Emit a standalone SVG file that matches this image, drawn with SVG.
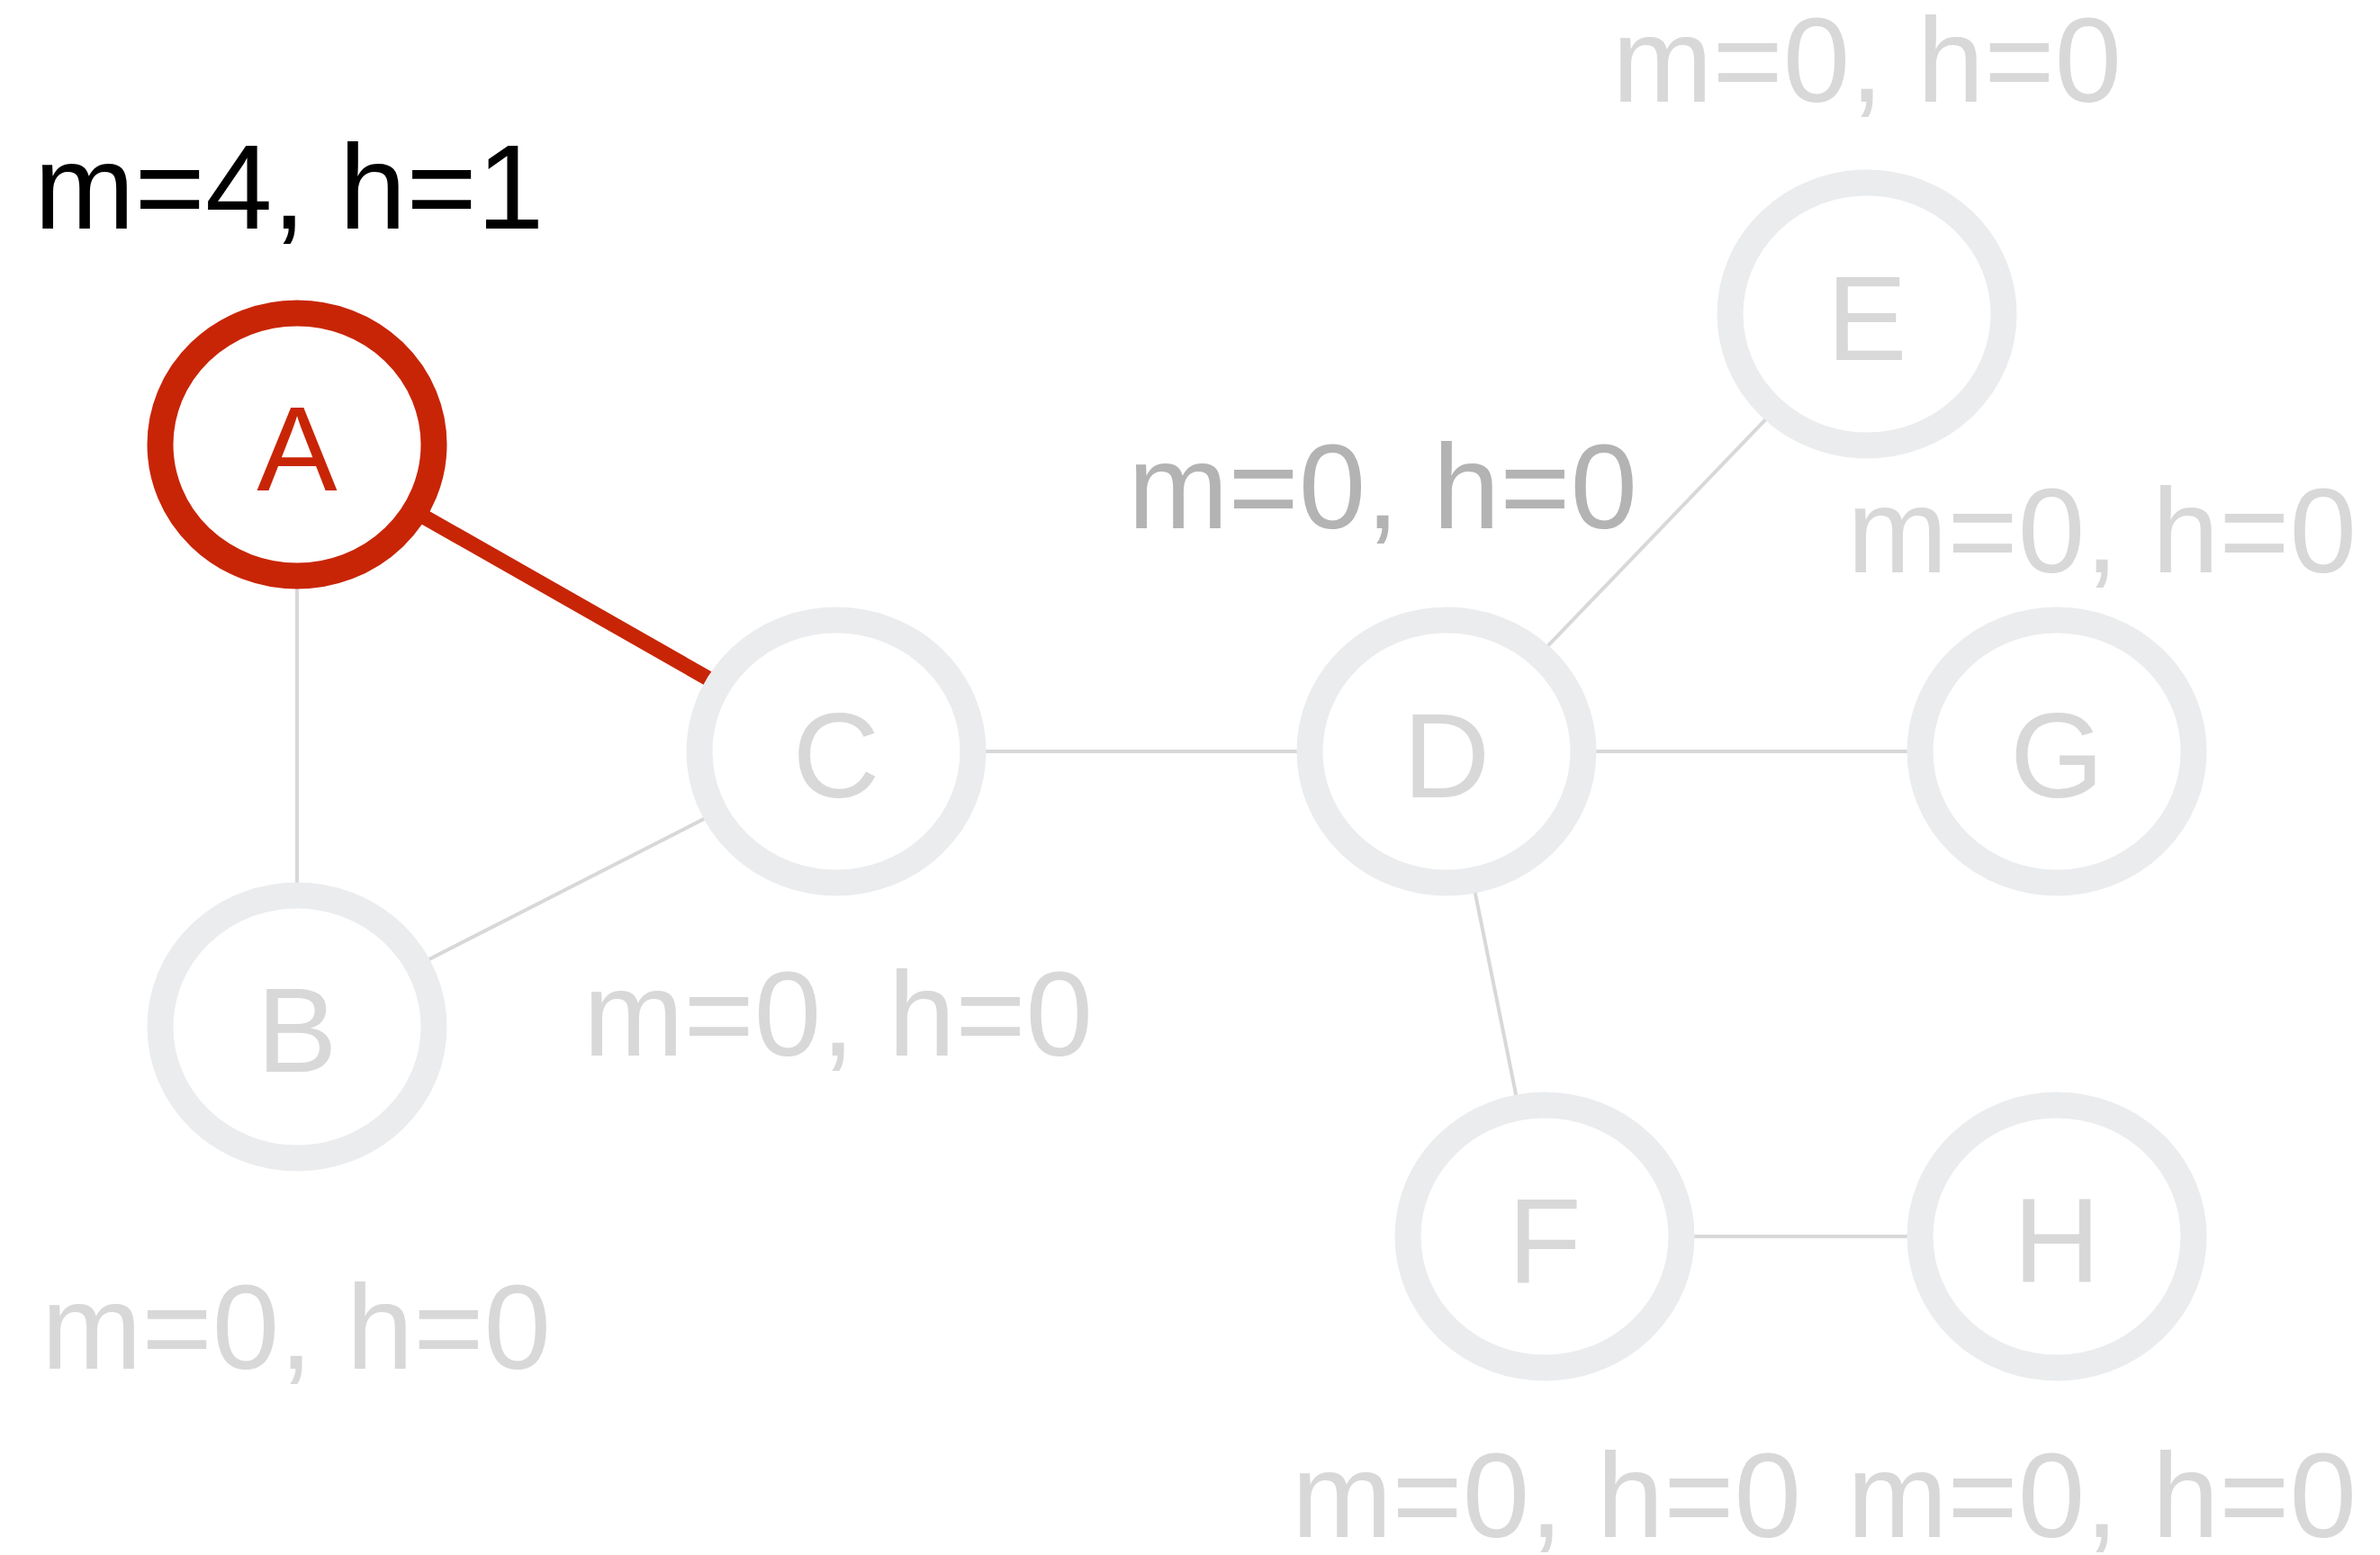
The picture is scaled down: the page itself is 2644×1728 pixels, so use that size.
<svg xmlns="http://www.w3.org/2000/svg" width="2644" height="1728" viewBox="0 0 2644 1728">
<style>
.bg{fill:#ffffff}
.node{fill:#ffffff;stroke:#ebecee;stroke-width:29}
.node.hot{stroke:#c82506}
.nl{font-family:"Liberation Sans",Arial,sans-serif;font-size:134px;fill:#d8d8d8;text-anchor:middle}
.nl.hot{fill:#c82506}
.lab{font-family:"Liberation Sans",Arial,sans-serif;font-size:134px;fill:#d8d8d8;text-anchor:middle}
.lab.dark{fill:#b3b3b3}
.lab.black{fill:#000000;text-anchor:start}
.edge{stroke:#d8d8d8;stroke-width:4;fill:none}
.edge.hot{stroke:#c82506;stroke-width:17}
</style>
<rect class="bg" x="0" y="0" width="2644" height="1728"/>
<g id="connectors">
<line class="edge" x1="330" y1="494" x2="330" y2="1141"/>
<line class="edge" x1="330" y1="1141" x2="929" y2="835"/>
<line class="edge" x1="929" y1="835" x2="1607" y2="835"/>
<line class="edge" x1="1607" y1="835" x2="2074" y2="349"/>
<line class="edge" x1="1607" y1="835" x2="2285" y2="835"/>
<line class="edge" x1="1607" y1="835" x2="1716" y2="1374"/>
<line class="edge" x1="1716" y1="1374" x2="2285" y2="1374"/>
<line class="edge hot" x1="330" y1="494" x2="929" y2="835"/>
</g>
<g id="node-A">
<ellipse class="node hot" cx="330" cy="494" rx="152" ry="146"/>
<text class="nl hot" x="330" y="545">A</text>
</g>
<g id="node-B">
<ellipse class="node" cx="330" cy="1141" rx="152" ry="146"/>
<text class="nl" x="330" y="1191">B</text>
</g>
<g id="node-C">
<ellipse class="node" cx="929" cy="835" rx="152" ry="146"/>
<text class="nl" x="929" y="886">C</text>
</g>
<g id="node-D">
<ellipse class="node" cx="1607" cy="835" rx="152" ry="146"/>
<text class="nl" x="1607" y="886">D</text>
</g>
<g id="node-E">
<ellipse class="node" cx="2074" cy="349" rx="152" ry="146"/>
<text class="nl" x="2074" y="400">E</text>
</g>
<g id="node-G">
<ellipse class="node" cx="2285" cy="835" rx="152" ry="146"/>
<text class="nl" x="2285" y="886">G</text>
</g>
<g id="node-F">
<ellipse class="node" cx="1716" cy="1374" rx="152" ry="146"/>
<text class="nl" x="1716" y="1425">F</text>
</g>
<g id="node-H">
<ellipse class="node" cx="2285" cy="1374" rx="152" ry="146"/>
<text class="nl" x="2285" y="1425">H</text>
</g>
<g id="labels">
<text class="lab black" x="38" y="254">m=4, h=1</text>
<text class="lab dark" x="1536" y="587">m=0, h=0</text>
<text class="lab" x="2074" y="113">m=0, h=0</text>
<text class="lab" x="2335" y="636">m=0, h=0</text>
<text class="lab" x="931" y="1173">m=0, h=0</text>
<text class="lab" x="329" y="1521">m=0, h=0</text>
<text class="lab" x="1718" y="1708">m=0, h=0</text>
<text class="lab" x="2335" y="1708">m=0, h=0</text>
</g>
</svg>
